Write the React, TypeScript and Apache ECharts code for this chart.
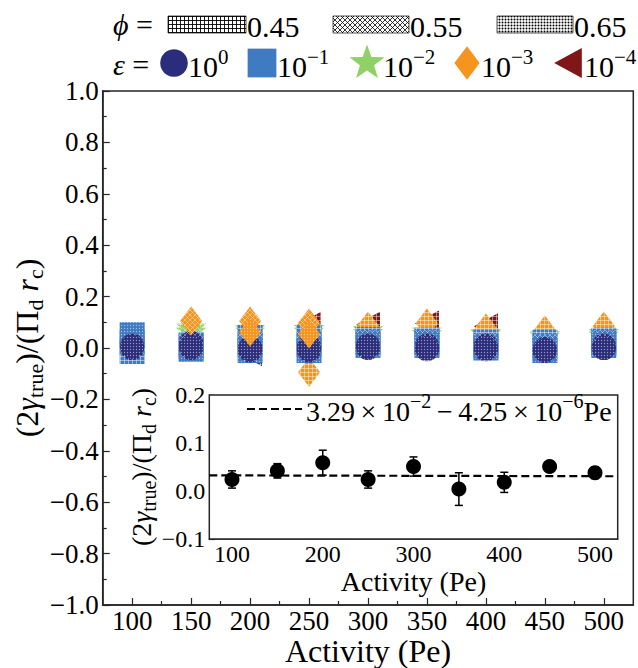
import React, { useEffect, useRef } from 'react';
import * as echarts from 'echarts';

// ---------- data ----------
const peValues = [100, 150, 200, 250, 300, 350, 400, 450, 500];
const phiLabels = ['0.45', '0.55', '0.65'];
const epsExponents = ['0', '−1', '−2', '−3', '−4'];

// (2 gamma_true)/(Pi_d r_c) per phi row [0.45, 0.55, 0.65], per Pe column
const circleRatio = [
  [0.0, 0.0, -0.01, -0.01, 0.0, -0.005, -0.005, -0.012, 0.0],
  [0.01, 0.02, 0.0, 0.005, 0.01, 0.01, 0.01, -0.004, 0.01],
  [0.005, 0.005, -0.005, -0.005, 0.005, 0.0, 0.0, -0.008, 0.0],
];
const squareRatio = [
  [-0.014, 0.014, 0.041, 0.04, 0.033, 0.03, 0.022, 0.022, 0.03],
  [0.02, 0.005, 0.015, 0.015, 0.02, 0.02, 0.01, 0.005, 0.02],
  [0.052, -0.005, -0.01, -0.01, 0.01, 0.01, 0.0, -0.01, 0.01],
];
const starRatio = [
  [null, 0.075, 0.07, 0.07, 0.065, 0.06, 0.055, 0.045, 0.055],
  [null, 0.06, 0.06, 0.06, 0.055, 0.05, 0.05, 0.04, 0.045],
  [null, null, null, null, null, null, null, null, null],
];
const diamondRatio = [
  [null, null, null, -0.094, 0.086, 0.097, 0.078, 0.07, 0.086],
  [null, 0.105, 0.105, 0.097, null, null, null, null, null],
  [null, null, 0.062, 0.054, null, null, null, null, null],
];
const triangleRatio = [
  [null, null, -0.02, 0.09, 0.09, 0.095, 0.085, null, null],
  [null, null, null, null, null, null, null, null, null],
  [null, null, null, null, null, null, null, null, null],
];

const insetPe = [100, 150, 200, 250, 300, 350, 400, 450, 500];
const insetMean = [0.024, 0.042, 0.059, 0.024, 0.051, 0.004, 0.018, 0.051, 0.038];
const insetErr = [0.018, 0.015, 0.026, 0.018, 0.02, 0.034, 0.021, 0.005, 0.012];
const fitPe = [75, 525];
const fitValue = [0.0326, 0.0307];

const mainXTicks = [100, 150, 200, 250, 300, 350, 400, 450, 500];
const mainXMinorTicks = [125, 175, 225, 275, 325, 375, 425, 475];
const insetXTicks = [100, 200, 300, 400, 500];
const insetXMinorTicks = [150, 250, 350, 450];

// ---------- styles ----------
const FONT = 'Liberation Serif';
const AXIS_COLOR = '#262626';
const markerKinds = ['circle', 'square', 'star', 'diamond', 'triangle'];
const epsColors = ['#2b2d7c', '#3f7ac2', '#8fd165', '#f7941e', '#7f1718'];
const ratioSets = [circleRatio, squareRatio, starRatio, diamondRatio, triangleRatio];
const hatchKinds = ['grid', 'cross', 'dots'];
// drawing order of (eps index, phi index) layers, bottom first
const layerOrder = [
  [4, 0], [4, 1], [4, 2],
  [2, 0], [2, 1], [2, 2],
  [3, 0],
  [1, 0], [1, 1], [1, 2],
  [0, 0], [0, 1], [0, 2],
  [3, 1], [3, 2],
];

function makePattern(kind: string, color: string, dotR = 0.85) {
  let s = 4;
  let body = '';
  if (kind === 'grid') {
    s = 4;
    body = `<path d="M0 0.5H4M0.5 0V4" stroke="${color}" stroke-width="0.9" fill="none"/>`;
  } else if (kind === 'cross') {
    s = 5;
    body = `<path d="M0 0L5 5M5 0L0 5" stroke="${color}" stroke-width="0.8" fill="none"/>`;
  } else {
    s = 3;
    body = `<circle cx="1.5" cy="1.5" r="${dotR}" fill="${color}"/>`;
  }
  const svg = `<svg xmlns="http://www.w3.org/2000/svg" width="${s}" height="${s}">${body}</svg>`;
  return {
    image: 'data:image/svg+xml;charset=utf-8,' + encodeURIComponent(svg),
    repeat: 'repeat',
    imageWidth: s,
    imageHeight: s,
  };
}

function starPoints(cx: number, cy: number, R: number, r: number) {
  const pts: number[][] = [];
  for (let i = 0; i < 10; i++) {
    const a = -Math.PI / 2 + (i * Math.PI) / 5;
    const rad = i % 2 === 0 ? R : r;
    pts.push([cx + rad * Math.cos(a), cy + rad * Math.sin(a)]);
  }
  return pts;
}

function shapeEl(kind: string, cx: number, cy: number, s: number, fill: any) {
  const style = { fill, stroke: null };
  if (kind === 'circle') return { type: 'circle', shape: { cx, cy, r: 12 * s }, style };
  if (kind === 'square')
    return { type: 'rect', shape: { x: cx - 12.5 * s, y: cy - 12.5 * s, width: 25 * s, height: 25 * s }, style };
  if (kind === 'star') return { type: 'polygon', shape: { points: starPoints(cx, cy, 16 * s, 6.5 * s) }, style };
  if (kind === 'diamond')
    return {
      type: 'polygon',
      shape: { points: [[cx, cy - 14.5 * s], [cx + 11 * s, cy], [cx, cy + 14.5 * s], [cx - 11 * s, cy]] },
      style,
    };
  return {
    type: 'polygon',
    shape: { points: [[cx - 12 * s, cy], [cx + 12 * s, cy - 13 * s], [cx + 12 * s, cy + 13 * s]] },
    style,
  };
}

const fmt1 = (v: number) => v.toFixed(1).replace('-', '−');

export default function App() {
  const ref = useRef<HTMLDivElement>(null);

  useEffect(() => {
    if (!ref.current) return;
    const chart = echarts.init(ref.current, null, { renderer: 'svg' });

    const markerHatch = hatchKinds.map((k) => makePattern(k, 'rgba(255,255,255,0.5)', 0.7));
    const legendHatch = hatchKinds.map((k) => makePattern(k, '#000', 1.0));

    const series: any[] = [];
    layerOrder.forEach(([e, p]) => {
      const kind = markerKinds[e];
      const color = epsColors[e];
      const hatch = markerHatch[p];
      const values = ratioSets[e][p];
      const data = peValues
        .map((pe, k) => [pe, values[k]])
        .filter((d) => d[1] !== null && d[1] !== undefined);
      if (!data.length) return;
      series.push({
        type: 'custom',
        name: `phi=${phiLabels[p]}, eps=10^${epsExponents[e]}`,
        coordinateSystem: 'cartesian2d',
        xAxisIndex: 0,
        yAxisIndex: 0,
        encode: { x: 0, y: 1 },
        data,
        z: 3,
        renderItem: (params: any, api: any) => {
          const c = api.coord([api.value(0), api.value(1)]);
          return {
            type: 'group',
            children: [shapeEl(kind, c[0], c[1], 1, color), shapeEl(kind, c[0], c[1], 1, hatch)],
          };
        },
      });
    });

    // inset error bars
    series.push({
      type: 'custom',
      name: 'error',
      coordinateSystem: 'cartesian2d',
      xAxisIndex: 2,
      yAxisIndex: 1,
      encode: { x: 0, y: 1 },
      data: insetPe.map((pe, i) => [pe, insetMean[i], insetErr[i]]),
      z: 5,
      renderItem: (params: any, api: any) => {
        const x = api.value(0);
        const m = api.value(1);
        const er = api.value(2);
        const top = api.coord([x, m + er]);
        const bot = api.coord([x, m - er]);
        const st = { stroke: '#000', lineWidth: 1.5 };
        return {
          type: 'group',
          children: [
            { type: 'line', shape: { x1: top[0], y1: top[1], x2: bot[0], y2: bot[1] }, style: st },
            { type: 'line', shape: { x1: top[0] - 4, y1: top[1], x2: top[0] + 4, y2: top[1] }, style: st },
            { type: 'line', shape: { x1: bot[0] - 4, y1: bot[1], x2: bot[0] + 4, y2: bot[1] }, style: st },
          ],
        };
      },
    });
    series.push({
      type: 'line',
      name: 'fit',
      xAxisIndex: 2,
      yAxisIndex: 1,
      data: fitPe.map((x, i) => [x, fitValue[i]]),
      symbol: 'none',
      lineStyle: { color: '#000', width: 2.2, type: [8, 4] },
      z: 4,
    });
    series.push({
      type: 'scatter',
      name: 'mean',
      xAxisIndex: 2,
      yAxisIndex: 1,
      data: insetPe.map((pe, i) => [pe, insetMean[i]]),
      symbol: 'circle',
      symbolSize: 15,
      itemStyle: { color: '#000', opacity: 1 },
      z: 6,
    });

    const axisLine = { show: true, onZero: false, lineStyle: { color: AXIS_COLOR, width: 1.5 } };
    const tickStyle = { color: AXIS_COLOR, width: 1.2 };

    const richMath = (size: number, lh: number) => ({
      i: { fontStyle: 'italic', fontSize: size, lineHeight: lh, fontFamily: FONT, color: '#000' },
      sub: { fontSize: Math.round(size * 0.7), lineHeight: Math.round(size * 0.7), verticalAlign: 'bottom', fontFamily: FONT, color: '#000' },
      sup: { fontSize: Math.round(size * 0.7), lineHeight: Math.round(size * 0.7), verticalAlign: 'top', fontFamily: FONT, color: '#000' },
    });

    const legendEls: any[] = [];
    const textEl = (x: number, y: number, text: string, size: number) => ({
      type: 'text',
      x,
      y,
      style: {
        text,
        fontSize: size,
        fontFamily: FONT,
        fill: '#000',
        align: 'left',
        verticalAlign: 'middle',
        lineHeight: 40,
        rich: richMath(size, 40),
      },
    });
    // phi row
    legendEls.push(textEl(113, 24, '{i|ϕ} =', 30));
    const phiRectX = [168, 333, 497];
    const phiRectW = [78, 76, 76];
    for (let p = 0; p < 3; p++) {
      legendEls.push({
        type: 'rect',
        shape: { x: phiRectX[p], y: 16, width: phiRectW[p], height: 17 },
        style: { fill: '#fff', stroke: '#555', lineWidth: 1 },
      });
      legendEls.push({
        type: 'rect',
        shape: { x: phiRectX[p], y: 16, width: phiRectW[p], height: 17 },
        style: { fill: legendHatch[p], stroke: null },
      });
      legendEls.push(textEl(phiRectX[p] + phiRectW[p] + 1, 26, phiLabels[p], 30));
    }
    // eps row
    legendEls.push(textEl(113, 64, '{i|ε} =', 30));
    const epsMarkerX = [174, 262, 367, 467, 568];
    const epsTextX = [188, 277, 383, 481, 584];
    for (let e = 0; e < 5; e++) {
      legendEls.push(shapeEl(markerKinds[e], epsMarkerX[e], 63, 1.15, epsColors[e]));
      legendEls.push(textEl(epsTextX[e], 66, `10{sup|${epsExponents[e]}}`, 30));
    }
    // inset legend
    legendEls.push({
      type: 'line',
      shape: { x1: 247, y1: 409, x2: 302, y2: 409 },
      style: { stroke: '#000', lineWidth: 2.2, lineDash: [8, 4] },
      z: 10,
    });
    legendEls.push({
      ...textEl(306, 411, '3.29\u2009×\u200910{sup|−2}\u2009−\u20094.25\u2009×\u200910{sup|−6}Pe', 28),
      z: 10,
    });

    const option: any = {
      animation: false,
      textStyle: { fontFamily: FONT },
      grid: [
        {
          left: 102.7,
          top: 91,
          width: 530.6,
          height: 514,
          show: true,
          borderColor: AXIS_COLOR,
          borderWidth: 1.5,
          backgroundColor: 'transparent',
          containLabel: false,
          outerBoundsMode: 'none',
        },
        {
          left: 209.3,
          top: 395,
          width: 408.4,
          height: 144,
          show: true,
          borderColor: AXIS_COLOR,
          borderWidth: 1.5,
          backgroundColor: '#fff',
          containLabel: false,
          outerBoundsMode: 'none',
          z: 1,
        },
      ],
      xAxis: [
        {
          type: 'value',
          gridIndex: 0,
          position: 'bottom',
          min: 75,
          max: 525,
          axisLine,
          splitLine: { show: false },
          axisTick: { show: true, inside: true, length: 7, lineStyle: tickStyle, customValues: mainXTicks },
          axisLabel: { customValues: mainXTicks, fontSize: 27, lineHeight: 27, fontFamily: FONT, color: '#000', margin: 2 },
          name: 'Activity (Pe)',
          nameLocation: 'middle',
          nameGap: 30,
          nameMoveOverlap: false,
          nameTextStyle: { fontSize: 32, lineHeight: 32, fontFamily: FONT, color: '#000' },
        },
        {
          type: 'value',
          gridIndex: 0,
          position: 'bottom',
          min: 75,
          max: 525,
          axisLine: { show: false, onZero: false },
          splitLine: { show: false },
          axisTick: { show: true, inside: true, length: 4, lineStyle: tickStyle, customValues: mainXMinorTicks },
          axisLabel: { show: false },
        },
        {
          type: 'value',
          gridIndex: 1,
          position: 'bottom',
          min: 75,
          max: 525,
          axisLine,
          splitLine: { show: false },
          axisTick: { show: true, inside: true, length: 6, lineStyle: tickStyle, customValues: insetXTicks },
          axisLabel: { customValues: insetXTicks, fontSize: 24, lineHeight: 24, fontFamily: FONT, color: '#000', margin: 3 },
          name: 'Activity (Pe)',
          nameLocation: 'middle',
          nameGap: 28,
          nameMoveOverlap: false,
          nameTextStyle: { fontSize: 28, lineHeight: 28, fontFamily: FONT, color: '#000' },
        },
        {
          type: 'value',
          gridIndex: 1,
          position: 'bottom',
          min: 75,
          max: 525,
          axisLine: { show: false, onZero: false },
          splitLine: { show: false },
          axisTick: { show: true, inside: true, length: 4, lineStyle: tickStyle, customValues: insetXMinorTicks },
          axisLabel: { show: false },
        },
      ],
      yAxis: [
        {
          type: 'value',
          gridIndex: 0,
          min: -1,
          max: 1,
          interval: 0.2,
          axisLine,
          splitLine: { show: false },
          minorSplitLine: { show: false },
          axisTick: { show: true, inside: true, length: 7, lineStyle: tickStyle },
          minorTick: { show: true, splitNumber: 2, length: 4, lineStyle: tickStyle },
          axisLabel: { formatter: fmt1, fontSize: 27, fontFamily: FONT, color: '#000', margin: 4 },
          name: '(2{i|γ}{sub|true})/(Π{sub|d}{i| r}{sub|c})',
          nameLocation: 'middle',
          nameRotate: 90,
          nameGap: 56,
          nameMoveOverlap: false,
          nameTextStyle: {
            fontSize: 32,
            fontFamily: FONT,
            color: '#000',
            lineHeight: 40,
            rich: richMath(32, 40),
          },
        },
        {
          type: 'value',
          gridIndex: 1,
          min: -0.1,
          max: 0.2,
          interval: 0.1,
          axisLine,
          splitLine: { show: false },
          minorSplitLine: { show: false },
          axisTick: { show: true, inside: true, length: 6, lineStyle: tickStyle },
          minorTick: { show: true, splitNumber: 2, length: 3.5, lineStyle: tickStyle },
          axisLabel: { formatter: fmt1, fontSize: 24, fontFamily: FONT, color: '#000', margin: 4 },
          name: '(2{i|γ}{sub|true})/(Π{sub|d}{i| r}{sub|c})',
          nameLocation: 'middle',
          nameRotate: 90,
          nameGap: 50,
          nameMoveOverlap: false,
          nameTextStyle: {
            fontSize: 28,
            fontFamily: FONT,
            color: '#000',
            lineHeight: 36,
            rich: richMath(28, 36),
          },
        },
      ],
      graphic: { elements: legendEls },
      series,
    };

    chart.setOption(option);
    return () => chart.dispose();
  }, []);

  return <div ref={ref} style={{ position: 'absolute', left: 0, top: 0, width: 638, height: 668 }} />;
}
